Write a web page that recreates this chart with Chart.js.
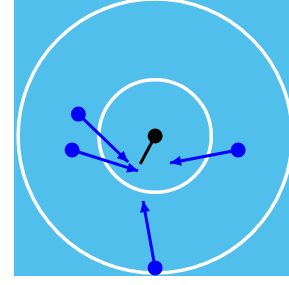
<!DOCTYPE html>
<html lang="en">
<head>
    <meta charset="UTF-8">
    <title>Arrows and circles</title>
    <script src="https://cdn.jsdelivr.net/npm/chart.js"></script>
    <style>
        body { margin: 0; background: #fff; }
    </style>
</head>
<body>
    <canvas id="chart" width="289" height="285"></canvas>

    <script>
        // units: outer ring radius = 10, centre at (0,0)
        const ringRadii = [10, 4.1];
        const centre = [0, 0];

        // blue arrows: start (dot) -> end (arrow head)
        const startX = [-5.6, -6.06, 6.06, 0];
        const startY = [1.6, -1.02, -1.02, -9.63];
        const endX = [-1.97, -1.24, 1.09, -0.88];
        const endY = [-1.9, -2.55, -1.97, -4.74];

        // black pointer from the centre
        const pointerEnd = [-1.09, -2.04];

        const blue = '#0000ff';

        const datasets = startX.map((sx, i) => ({
            type: 'line',
            data: [{ x: sx, y: startY[i] }, { x: endX[i], y: endY[i] }],
            borderColor: blue,
            backgroundColor: blue,
            borderWidth: 3,
            pointRadius: [6, 0],
            pointHoverRadius: [6, 0],
            arrow: true
        }));

        datasets.push({
            type: 'line',
            data: [{ x: centre[0], y: centre[1] }, { x: pointerEnd[0], y: pointerEnd[1] }],
            borderColor: '#000',
            backgroundColor: '#000',
            borderWidth: 3,
            pointRadius: [6, 0],
            pointHoverRadius: [6, 0]
        });

        const backdrop = {
            id: 'backdrop',
            beforeDatasetsDraw(chart) {
                const { ctx, chartArea: a, scales: { x, y } } = chart;
                ctx.save();
                ctx.fillStyle = '#51bfec';
                ctx.fillRect(a.left, a.top, a.right - a.left, a.bottom - a.top);
                ctx.beginPath();
                ctx.rect(a.left, a.top, a.right - a.left, a.bottom - a.top);
                ctx.clip();
                const cx = x.getPixelForValue(centre[0]);
                const cy = y.getPixelForValue(centre[1]);
                ctx.strokeStyle = '#fff';
                ctx.lineWidth = 3.5;
                ringRadii.forEach(r => {
                    const rp = x.getPixelForValue(centre[0] + r) - cx;
                    ctx.beginPath();
                    ctx.arc(cx, cy, rp, 0, Math.PI * 2);
                    ctx.stroke();
                });
                ctx.restore();
            }
        };

        const arrowHeads = {
            id: 'arrowHeads',
            afterDatasetsDraw(chart) {
                const ctx = chart.ctx;
                chart.data.datasets.forEach((ds, i) => {
                    if (!ds.arrow) return;
                    const pts = chart.getDatasetMeta(i).data;
                    const p0 = pts[0], p1 = pts[1];
                    const ang = Math.atan2(p1.y - p0.y, p1.x - p0.x);
                    const len = 11, half = 5;
                    ctx.save();
                    ctx.translate(p1.x, p1.y);
                    ctx.rotate(ang);
                    ctx.fillStyle = ds.borderColor;
                    ctx.beginPath();
                    ctx.moveTo(0, 0);
                    ctx.lineTo(-len, -half);
                    ctx.lineTo(-len, half);
                    ctx.closePath();
                    ctx.fill();
                    ctx.restore();
                });
            }
        };

        new Chart(document.getElementById('chart').getContext('2d'), {
            type: 'scatter',
            data: { datasets: datasets },
            options: {
                responsive: false,
                animation: false,
                layout: { autoPadding: false, padding: { left: 14, top: 0, right: 0, bottom: 9 } },
                plugins: { legend: { display: false }, tooltip: { enabled: false } },
                scales: {
                    x: { type: 'linear', display: false, min: -10.3, max: 9.77 },
                    y: { type: 'linear', display: false, min: -10.22, max: 9.93 }
                }
            },
            plugins: [backdrop, arrowHeads]
        });
    </script>
</body>
</html>
